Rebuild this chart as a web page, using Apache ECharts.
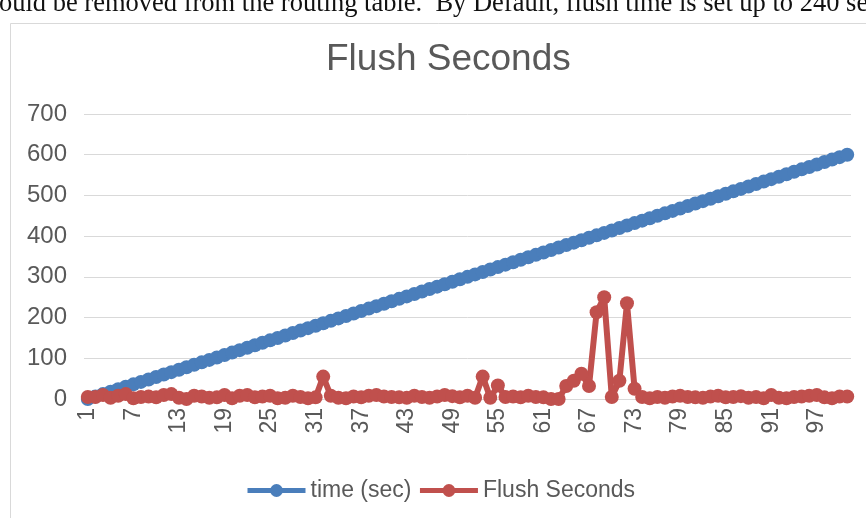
<!DOCTYPE html>
<html>
<head>
<meta charset="utf-8">
<script src="https://cdn.jsdelivr.net/npm/echarts@6/dist/echarts.min.js"></script>
<style>
  html, body { margin: 0; padding: 0; background: #fff; }
  #chart { width: 866px; height: 518px; }
</style>
</head>
<body>
<div id="chart"></div>
<script>
// Sample index (one sample every 6 seconds)
var categories = [];
for (var i = 1; i <= 101; i++) categories.push(String(i));

// Elapsed time in seconds at each sample
var timeSec = [
  0, 6, 12, 18, 24, 30, 36, 42, 48, 54,
  60, 66, 72, 78, 84, 90, 96, 102, 108, 114,
  120, 126, 132, 138, 144, 150, 156, 162, 168, 174,
  180, 186, 192, 198, 204, 210, 216, 222, 228, 234,
  240, 246, 252, 258, 264, 270, 276, 282, 288, 294,
  300, 306, 312, 318, 324, 330, 336, 342, 348, 354,
  360, 366, 372, 378, 384, 390, 396, 402, 408, 414,
  420, 426, 432, 438, 444, 450, 456, 462, 468, 474,
  480, 486, 492, 498, 504, 510, 516, 522, 528, 534,
  540, 546, 552, 558, 564, 570, 576, 582, 588, 594,
  600
];

// Measured flush seconds at each sample
var flushSeconds = [
  5, 5, 10, 3, 8, 12, 2, 5, 6, 4,
  10, 12, 3, 0, 8, 6, 3, 4, 10, 2,
  8, 10, 4, 6, 8, 2, 3, 8, 5, 2,
  4, 55, 8, 3, 2, 6, 4, 8, 10, 6,
  5, 4, 3, 8, 5, 3, 6, 10, 7, 4,
  8, 3, 55, 3, 33, 5, 6, 4, 8, 5,
  4, 0, 0, 32, 45, 62, 32, 213, 250, 5,
  45, 235, 25, 5, 2, 5, 3, 6, 8, 5,
  4, 3, 6, 8, 4, 5, 7, 3, 5, 2,
  10, 3, 2, 5, 6, 8, 10, 4, 2, 6,
  6
];

var yTicks = [0, 100, 200, 300, 400, 500, 600, 700];

var textColor = '#595959';
var sansFont = 'Liberation Sans, Arial, sans-serif';
var chart = echarts.init(document.getElementById('chart'), null, { renderer: 'canvas' });

chart.setOption({
  backgroundColor: '#ffffff',
  animation: false,
  graphic: [
    {
      type: 'text',
      left: -1,
      top: -9,
      style: {
        text: 'ould be removed from the routing table.  By Default, flush time is set up to 240 se',
        font: '26.5px "Liberation Serif", "DejaVu Serif", serif',
        fill: '#111111'
      },
      z: 10
    },
    {
      type: 'rect',
      shape: { x: 10.5, y: 23.5, width: 900, height: 600 },
      style: { fill: 'none', stroke: '#d9d9d9', lineWidth: 1 },
      z: 0
    }
  ],
  title: {
    text: 'Flush Seconds',
    left: 321,
    top: 36,
    textStyle: {
      color: textColor,
      fontSize: 37,
      fontWeight: 'normal',
      fontFamily: sansFont
    }
  },
  legend: {
    bottom: 11,
    left: 240,
    itemWidth: 58,
    itemHeight: 16,
    itemGap: 6,
    lineStyle: { width: 5 },
    textStyle: {
      color: textColor,
      fontSize: 23,
      fontFamily: sansFont
    },
    data: ['time (sec)', 'Flush Seconds']
  },
  grid: {
    left: 84,
    right: 15,
    top: 114,
    bottom: 119
  },
  xAxis: {
    type: 'category',
    data: categories,
    boundaryGap: true,
    axisLine: { show: true, lineStyle: { color: '#d9d9d9', width: 1 } },
    axisTick: { show: false },
    axisLabel: {
      interval: 5,
      rotate: 90,
      color: textColor,
      fontSize: 23,
      margin: 9,
      fontFamily: sansFont
    }
  },
  yAxis: {
    type: 'value',
    min: yTicks[0],
    max: yTicks[yTicks.length - 1],
    interval: 100,
    axisLine: { show: false },
    axisTick: { show: false },
    splitLine: { lineStyle: { color: '#d9d9d9', width: 1 } },
    axisLabel: {
      color: textColor,
      fontSize: 24,
      margin: 17,
      fontFamily: sansFont
    }
  },
  series: [
    {
      name: 'time (sec)',
      type: 'line',
      data: timeSec,
      symbol: 'circle',
      symbolSize: 14,
      showAllSymbol: true,
      color: '#4a7ebb',
      lineStyle: { width: 6, color: '#4a7ebb' },
      itemStyle: { color: '#4a7ebb' }
    },
    {
      name: 'Flush Seconds',
      type: 'line',
      data: flushSeconds,
      symbol: 'circle',
      symbolSize: 14,
      showAllSymbol: true,
      color: '#c0504d',
      lineStyle: { width: 6, color: '#c0504d' },
      itemStyle: { color: '#c0504d' }
    }
  ]
});
</script>
</body>
</html>
